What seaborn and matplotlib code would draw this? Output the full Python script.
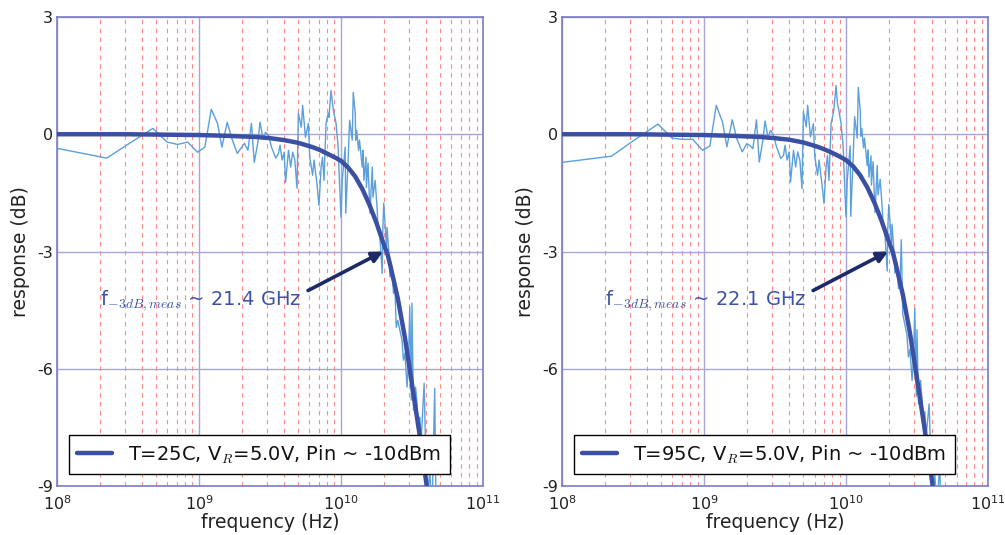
import matplotlib
matplotlib.use('Agg')
import matplotlib.pyplot as plt
import seaborn as sns
from matplotlib.ticker import LogLocator, FixedLocator, FixedFormatter, NullFormatter

# ---------------- data ----------------
freq_meas = [1.00e8, 2.24e8, 3.00e8, 4.74e8, 5.96e8, 7.08e8, 8.32e8, 9.77e8, 1.10e9, 1.22e9,
             1.35e9, 1.45e9, 1.58e9, 1.70e9, 1.86e9, 2.00e9, 2.09e9, 2.21e9, 2.34e9, 2.45e9,
             2.60e9, 2.69e9, 2.82e9, 2.95e9, 3.09e9, 3.24e9, 3.47e9, 3.63e9, 3.72e9, 3.85e9,
             3.98e9, 4.07e9, 4.27e9, 4.42e9, 4.57e9, 4.73e9, 4.90e9, 5.01e9, 5.25e9, 5.37e9,
             5.62e9, 5.89e9, 6.03e9, 6.31e9, 6.46e9, 6.76e9, 7.00e9, 7.24e9, 7.41e9, 7.59e9,
             7.85e9, 8.13e9, 8.22e9, 8.51e9, 8.71e9, 8.91e9, 9.23e9, 9.55e9, 9.66e9, 1.00e10,
             1.02e10, 1.07e10, 1.08e10, 1.12e10, 1.15e10, 1.20e10, 1.22e10, 1.26e10, 1.27e10, 1.29e10,
             1.33e10, 1.35e10, 1.41e10, 1.43e10, 1.45e10, 1.50e10, 1.51e10, 1.55e10, 1.60e10, 1.66e10,
             1.68e10, 1.74e10, 1.80e10, 1.82e10, 1.88e10, 1.95e10, 1.97e10, 2.00e10, 2.09e10, 2.11e10,
             2.19e10, 2.21e10, 2.29e10, 2.34e10, 2.40e10, 2.45e10, 2.51e10, 2.69e10, 2.75e10, 2.82e10,
             2.92e10, 2.99e10, 3.05e10, 3.13e10, 3.16e10, 3.24e10, 3.35e10, 3.43e10, 3.51e10, 3.59e10,
             3.67e10, 3.85e10, 3.94e10, 4.07e10, 4.22e10, 4.37e10, 4.57e10, 4.68e10, 5.01e10]

resp_25 = [-0.36, -0.61, -0.31, 0.15, -0.20, -0.26, -0.20, -0.46, -0.33, 0.64,
           0.28, -0.33, 0.31, -0.10, -0.49, -0.33, -0.23, -0.41, 0.28, -0.72,
           -0.20, 0.31, -0.10, 0.05, -0.03, -0.33, -0.61, -0.49, -0.28, -0.66,
           -0.46, -1.23, -0.41, -0.84, -0.46, -0.66, -1.38, 0.54, 0.18, 0.74,
           -0.08, 0.28, -0.59, -1.05, -0.66, -1.25, -1.82, -0.84, -0.59, -1.18,
           0.28, 0.54, 0.43, 1.12, 0.79, 0.54, 0.28, -0.33, -0.84, -2.12,
           -1.18, -0.33, -2.02, -0.74, 0.36, -0.15, 1.07, 0.54, -0.15, 0.10,
           -0.41, -0.15, -0.84, -0.41, -1.18, -0.59, -1.36, -0.74, -2.02, -0.84,
           -1.61, -1.18, -1.94, -2.38, -2.63, -3.56, -2.46, -1.76, -2.89, -2.38,
           -3.22, -3.65, -3.40, -4.07, -3.99, -4.94, -4.76, -5.27, -5.78, -5.60,
           -6.47, -5.78, -4.42, -6.80, -4.32, -7.06, -6.47, -6.88, -7.65, -7.24,
           -7.83, -6.37, -8.00, -9.30, -8.60, -9.80, -6.50, -10.0, -10.5]

resp_95 = [-0.72, -0.56, -0.23, 0.26, -0.10, -0.13, -0.13, -0.41, -0.30, 0.74,
           0.31, -0.32, 0.37, -0.11, -0.45, -0.24, -0.28, -0.37, 0.37, -0.71,
           -0.15, 0.34, -0.07, 0.10, -0.03, -0.32, -0.62, -0.54, -0.28, -0.66,
           -0.45, -1.22, -0.41, -0.84, -0.45, -0.66, -1.39, 0.57, 0.19, 0.74,
           -0.07, 0.27, -0.58, -1.05, -0.66, -1.26, -1.77, -0.84, -0.54, -1.18,
           0.27, 0.53, 0.66, 1.25, 0.78, 0.61, 0.27, -0.32, -0.84, -2.11,
           -1.18, -0.30, -2.10, -0.70, 0.45, -0.10, 1.20, 0.60, -0.05, 0.15,
           -0.35, -0.10, -0.80, -0.40, -1.10, -0.55, -1.30, -0.70, -2.00, -0.80,
           -1.55, -1.15, -1.90, -2.30, -2.55, -3.50, -2.40, -1.80, -2.80, -2.30,
           -3.15, -3.55, -3.30, -3.95, -3.85, -2.70, -4.60, -5.15, -5.70, -5.50,
           -6.30, -5.70, -4.45, -6.70, -5.00, -6.90, -6.30, -6.80, -7.50, -7.10,
           -7.70, -6.90, -8.10, -9.20, -8.70, -9.60, -8.40, -10.0, -10.5]

fit_freq = [1.0e8, 3.16e8, 1.0e9, 1.585e9, 2.512e9, 3.162e9, 3.981e9, 5.012e9, 6.310e9, 7.079e9,
            7.943e9, 8.913e9, 1.0e10, 1.122e10, 1.259e10, 1.413e10, 1.585e10, 1.778e10, 1.995e10, 2.138e10,
            2.239e10, 2.512e10, 2.818e10, 3.162e10, 3.548e10, 3.981e10, 4.266e10]
fit_25 = [0.0, 0.0, -0.02, -0.04, -0.07, -0.10, -0.15, -0.22, -0.33, -0.40,
          -0.49, -0.58, -0.68, -0.85, -1.08, -1.40, -1.80, -2.27, -2.80, -3.10,
          -3.40, -4.20, -5.20, -6.40, -7.60, -8.90, -9.70]
fit_95 = [0.0, 0.0, -0.02, -0.04, -0.07, -0.10, -0.14, -0.21, -0.32, -0.39,
          -0.47, -0.56, -0.66, -0.82, -1.05, -1.36, -1.75, -2.21, -2.73, -3.02,
          -3.32, -4.10, -5.08, -6.25, -7.45, -8.72, -9.52]

legend_labels = [r'T=25C, V$_R$=5.0V, Pin ~ -10dBm', r'T=95C, V$_R$=5.0V, Pin ~ -10dBm']
annot_labels = [r'f$_{-3dB,meas}$ ~ 21.4 GHz', r'f$_{-3dB,meas}$ ~ 22.1 GHz']
annot_xy = [(1.98e10, -3.0), (1.98e10, -3.0)]
annot_text_xy = [(2.0e8, -4.25), (2.0e8, -4.25)]

x_ticks = [1e8, 1e9, 1e10, 1e11]
x_tick_labels = [r'$10^{8}$', r'$10^{9}$', r'$10^{10}$', r'$10^{11}$']
y_ticks = [3, 0, -3, -6, -9]
y_tick_labels = ['3', '0', '-3', '-6', '-9']

# ---------------- style ----------------
sns.set_theme(style='white')
plt.rcParams['font.family'] = ['DejaVu Sans']
plt.rcParams['mathtext.fontset'] = 'dejavusans'

MEAS_C = '#5b9fdc'
FIT_C = '#3b4fa3'
TEXT_C = '#3d52a8'
ARROW_C = '#1c2a68'
SPINE_C = '#7c7cc4'
GRID_C = '#a6a6da'
MINOR_C = '#ff8a8a'

fig = plt.figure(figsize=(10.05, 5.35), dpi=100)
axes = [fig.add_axes([0.0567, 0.0916, 0.4239, 0.8766]),
        fig.add_axes([0.5592, 0.0916, 0.4239, 0.8766])]

panels = [(resp_25, fit_25), (resp_95, fit_95)]
for i, ax in enumerate(axes):
    resp, fit = panels[i]
    ax.set_xscale('log')
    sns.lineplot(x=freq_meas, y=resp, ax=ax, color=MEAS_C, lw=1.0,
                 estimator=None, sort=False, legend=False, zorder=3)
    sns.lineplot(x=fit_freq, y=fit, ax=ax, color=FIT_C, lw=3.2,
                 estimator=None, sort=False, legend=False, zorder=4)
    ax.set_xlim(1e8, 1e11)
    ax.set_ylim(-9, 3)

    ax.xaxis.set_major_locator(FixedLocator(x_ticks))
    ax.xaxis.set_major_formatter(FixedFormatter(x_tick_labels))
    ax.xaxis.set_minor_locator(LogLocator(base=10, subs=[2, 3, 4, 5, 6, 7, 8, 9], numticks=20))
    ax.xaxis.set_minor_formatter(NullFormatter())
    ax.yaxis.set_major_locator(FixedLocator(y_ticks))
    ax.yaxis.set_major_formatter(FixedFormatter(y_tick_labels))

    ax.set_axisbelow(True)
    ax.grid(True, which='major', color=GRID_C, lw=1.0, ls='-')
    ax.grid(True, which='minor', axis='x', color=MINOR_C, lw=0.8, ls=(0, (4, 4)))
    ax.tick_params(axis='both', which='both', length=0, labelsize=11.5, colors='#222222', pad=3)
    ax.tick_params(axis='x', pad=6)
    for s in ax.spines.values():
        s.set_color(SPINE_C)
        s.set_linewidth(1.2)

    ax.set_xlabel('frequency (Hz)', fontsize=13.5, color='#222222', labelpad=0)
    ax.set_ylabel('response (dB)', fontsize=13.5, color='#222222', labelpad=5)

    ax.annotate(annot_labels[i], xy=annot_xy[i], xytext=annot_text_xy[i],
                textcoords='data', xycoords='data', fontsize=14, color=TEXT_C,
                va='center', ha='left', math_fontfamily='cm',
                arrowprops=dict(arrowstyle='-|>', color=ARROW_C, lw=2.6,
                                mutation_scale=16, shrinkA=3, shrinkB=0,
                                relpos=(1.0, 0.75)),
                zorder=6)

    handle = ax.lines[1]
    leg = ax.legend([handle], [legend_labels[i]], loc='lower left', fontsize=14,
                    frameon=True, fancybox=False, edgecolor='black', framealpha=1.0,
                    handlelength=1.8, borderpad=0.45, borderaxespad=0.6)
    leg.get_frame().set_linewidth(1.0)
    for t in leg.get_texts():
        t.set_math_fontfamily('cm')
        t.set_color('#111111')

fig.savefig('out.png', dpi=100)
